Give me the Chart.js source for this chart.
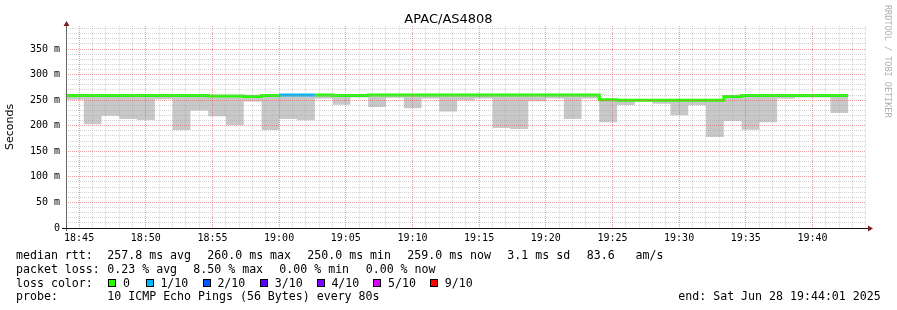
<!DOCTYPE html>
<html>
<head>
<meta charset="utf-8">
<title>APAC/AS4808</title>
<script src="https://cdn.jsdelivr.net/npm/chart.js@4/dist/chart.umd.min.js"></script>
<style>
  html, body { margin: 0; padding: 0; background: #fff; }
  #wrap { position: relative; width: 897px; height: 310px; overflow: hidden; }
  #chart { position: absolute; left: 0; top: 0; }
  #title { position: absolute; left: 0; top: 11px; width: 897px; text-align: center;
           font: 13px/15px 'DejaVu Sans', sans-serif; color: #000; }
  #credit { position: absolute; left: 883px; top: 5px; writing-mode: vertical-rl;
            font: 8.5px/9px 'DejaVu Sans Mono', monospace; color: #b0b0b0; }
  .txt { position: absolute; font-family: 'DejaVu Sans Mono', monospace; font-size: 11.6px;
         line-height: 14px; white-space: pre; color: #000; }
  .box { position: absolute; width: 8px; height: 8px; box-sizing: border-box; border: 1px solid #000; }
</style>
</head>
<body>
<div id="wrap">
  <canvas id="chart" width="897" height="310"></canvas>
  <div id="title">APAC/AS4808</div>
  <div id="credit">RRDTOOL / TOBI OETIKER</div>
  <div id="legend"></div>
</div>
<script>
// one sample every 80 s, first one at 18:44:01, graph spans one hour
const startTime = '18:44:01';
const stepSeconds = 80;
const spanSeconds = 3600;

// median rtt per sample (ms)
const medianRtt = [259, 259, 259, 259, 259, 259, 259, 259, 258, 258,
                   257, 259, 260, 260, 260, 259, 259, 260, 260, 260,
                   260, 260, 260, 260, 260, 260, 260, 260, 260, 260,
                   251, 250, 250, 250, 250, 250, 250, 257, 259, 259,
                   259, 259, 259, 259];
// lowest ping per sample (bottom of the smoke)
const minRtt = [251, 203, 219.5, 213, 211, 252, 191.5, 230, 218.5, 201.5,
                247.5, 191.5, 213, 210.5, 253, 241, 255, 236.5, 254.5, 234,
                253, 228, 250, 253, 195.5, 193.5, 248, 253, 213, 253,
                207, 240.5, 248, 243, 220.5, 240, 178, 209, 192, 207,
                252.5, 255, 255, 225];
// highest ping per sample (top of the smoke)
const maxRtt = [260, 260, 260, 260, 260, 260, 260, 260, 259, 259,
                258, 260, 261, 261, 261, 260, 260, 261, 261, 261,
                261, 261, 261, 261, 261, 261, 261, 261, 261, 261,
                252, 251, 251, 251, 251, 251, 251, 258, 260, 260,
                260, 260, 260, 260];
// lost pings out of 10
const lossTenths = [0, 0, 0, 0, 0, 0, 0, 0, 0, 0,
                    0, 0, 1, 1, 0, 0, 0, 0, 0, 0,
                    0, 0, 0, 0, 0, 0, 0, 0, 0, 0,
                    0, 0, 0, 0, 0, 0, 0, 0, 0, 0,
                    0, 0, 0, 0];

const lossLevels = [0, 1, 2, 3, 4, 5, 9];
const lossLabels = ['0', '1/10', '2/10', '3/10', '4/10', '5/10', '9/10'];
const lossColors = ['#26ff00', '#00b8ff', '#0059ff', '#5e00ff', '#7e00ff', '#dd00ff', '#ff0000'];

const timeTicks = ['18:45', '18:50', '18:55', '19:00', '19:05', '19:10',
                   '19:15', '19:20', '19:25', '19:30', '19:35', '19:40'];
const rttTicks = [0, 50, 100, 150, 200, 250, 300, 350];
const rttMax = 395;

const medianStats = ['257.8 ms avg', '260.0 ms max', '250.0 ms min', '259.0 ms now', '3.1 ms sd', '83.6   am/s'];
const lossStats = ['0.23 % avg', '8.50 % max', '0.00 % min', '0.00 % now'];
const probeText = '10 ICMP Echo Pings (56 Bytes) every 80s';
const endText = 'end: Sat Jun 28 19:44:01 2025';

function toSec(s) {
    const p = s.split(':').map(Number);
    return p[0] * 3600 + p[1] * 60 + (p[2] || 0);
}
const t0 = toSec(startTime);
const xMajor = timeTicks.map(t => toSec(t) - t0);
const xMinor = [];
for (let t = xMajor[0] % 60; t <= spanSeconds; t += 60) {
    if ((t - xMajor[0]) % 300 !== 0) xMinor.push(t);
}
const yMinor = [];
for (let v = 10; v < rttMax; v += 10) {
    if (v % 50 !== 0) yMinor.push(v);
}

// stepped series: each value holds for one probe interval
function stepPoints(arr) {
    const pts = arr.map((v, i) => ({ x: i * stepSeconds, y: v }));
    pts.push({ x: arr.length * stepSeconds, y: arr[arr.length - 1] });
    return pts;
}
function lossColor(n) {
    const i = lossLevels.indexOf(n);
    return lossColors[i < 0 ? lossColors.length - 1 : i];
}

const gridMinor = 'rgba(160,160,160,0.45)';
const gridMajor = 'rgba(222,79,79,0.55)';
const tickFont = { family: 'DejaVu Sans Mono', size: 10 };

// axis lines and the little rrdtool arrows
const rrdAxes = {
    id: 'rrdAxes',
    afterDraw(chart) {
        const { ctx, chartArea: a } = chart;
        ctx.save();
        ctx.fillStyle = '#666';
        ctx.fillRect(a.left, a.top, 1, a.bottom - a.top + 3);
        ctx.fillStyle = '#111';
        ctx.fillRect(a.left - 4, a.bottom, a.right - a.left + 6, 1);
        ctx.fillStyle = '#7f1f1f';
        ctx.beginPath();
        ctx.moveTo(a.left + 0.5, a.top - 5);
        ctx.lineTo(a.left - 2.5, a.top);
        ctx.lineTo(a.left + 3.5, a.top);
        ctx.fill();
        ctx.beginPath();
        ctx.moveTo(a.right + 7, a.bottom + 0.5);
        ctx.lineTo(a.right + 2, a.bottom - 2.5);
        ctx.lineTo(a.right + 2, a.bottom + 3.5);
        ctx.fill();
        ctx.restore();
    }
};

const ctx = document.getElementById('chart').getContext('2d');
new Chart(ctx, {
    type: 'line',
    data: {
        datasets: [
            { label: 'smoke low', data: stepPoints(minRtt), stepped: true, order: 3,
              borderWidth: 0, pointRadius: 0, fill: false },
            { label: 'smoke', data: stepPoints(maxRtt), stepped: true, order: 2,
              borderWidth: 0, pointRadius: 0, fill: '-1', backgroundColor: '#c8c8c8' },
            { label: 'median rtt', data: stepPoints(medianRtt), stepped: true, order: 1,
              borderWidth: 3, pointRadius: 0, fill: false, borderColor: lossColors[0],
              borderCapStyle: 'butt', borderJoinStyle: 'miter',
              segment: { borderColor: c => lossColor(lossTenths[c.p0DataIndex]) } }
        ]
    },
    options: {
        responsive: false,
        animation: false,
        events: [],
        layout: { padding: { top: 26, right: 31, bottom: 0, left: 0 } },
        plugins: { legend: { display: false }, tooltip: { enabled: false } },
        scales: {
            x: {
                type: 'linear', position: 'bottom', min: 0, max: spanSeconds,
                afterBuildTicks: s => { s.ticks = xMajor.map(v => ({ value: v })); },
                afterFit: s => { s.height = 82; },
                grid: { color: gridMajor, drawTicks: false, z: 1 },
                border: { display: false, dash: [1, 1] },
                ticks: { autoSkip: false, maxRotation: 0, padding: 4, color: '#000', font: tickFont,
                         callback: (v, i) => timeTicks[i] }
            },
            xMinor: {
                type: 'linear', position: 'bottom', min: 0, max: spanSeconds,
                afterBuildTicks: s => { s.ticks = xMinor.map(v => ({ value: v })); },
                afterFit: s => { s.height = 0; },
                grid: { color: gridMinor, drawTicks: false, z: 1 },
                border: { display: false, dash: [1, 1] },
                ticks: { display: false }
            },
            y: {
                type: 'linear', position: 'left', min: 0, max: rttMax,
                afterBuildTicks: s => { s.ticks = rttTicks.map(v => ({ value: v })); },
                afterFit: s => { s.width = 66; },
                grid: { color: gridMajor, drawTicks: false, z: 1 },
                border: { display: false, dash: [1, 1] },
                title: { display: true, text: 'Seconds', color: '#000',
                         font: { family: 'DejaVu Sans', size: 11 }, padding: { top: 4, bottom: 0 } },
                ticks: { padding: 6, color: '#000', font: tickFont,
                         callback: v => v === 0 ? '0' : v + ' m' }
            },
            yMinor: {
                type: 'linear', position: 'left', min: 0, max: rttMax,
                afterBuildTicks: s => { s.ticks = yMinor.map(v => ({ value: v })); },
                afterFit: s => { s.width = 0; },
                grid: { color: gridMinor, drawTicks: false, z: 1 },
                border: { display: false, dash: [1, 1] },
                ticks: { display: false }
            }
        }
    },
    plugins: [rrdAxes]
});

// legend lines under the graph
const legend = document.getElementById('legend');
function addText(x, y, text) {
    const d = document.createElement('div');
    d.className = 'txt';
    d.style.left = x + 'px';
    d.style.top = y + 'px';
    d.textContent = text;
    legend.appendChild(d);
}
const rowTop = [248, 261.8, 275.6, 289.4];
addText(16, rowTop[0], 'median rtt:');
[107.3, 207.3, 307.3, 407.3, 507.3, 586.7].forEach((x, i) => addText(x, rowTop[0], medianStats[i]));
addText(16, rowTop[1], 'packet loss:');
[107.3, 193.3, 279.3, 365.7].forEach((x, i) => addText(x, rowTop[1], lossStats[i]));
addText(16, rowTop[2], 'loss color:');
[108.3, 145.7, 202.7, 260, 316.7, 373.3, 430].forEach((x, i) => {
    const b = document.createElement('div');
    b.className = 'box';
    b.style.left = x + 'px';
    b.style.top = '279px';
    b.style.background = lossColors[i];
    legend.appendChild(b);
    addText(x + 14.7, rowTop[2], lossLabels[i]);
});
addText(16, rowTop[3], 'probe:');
addText(107.3, rowTop[3], probeText);
addText(678.3, rowTop[3], endText);
</script>
</body>
</html>
